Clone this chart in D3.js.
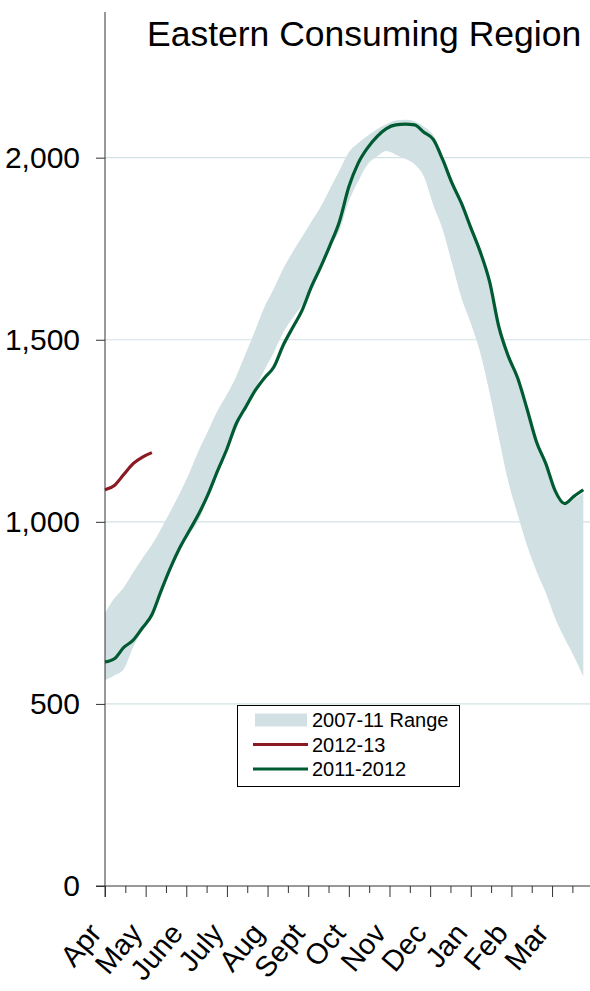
<!DOCTYPE html>
<html>
<head>
<meta charset="utf-8">
<script src="https://cdn.jsdelivr.net/npm/d3@7"></script>
<style>
  body { margin: 0; background: #fff; }
  svg { display: block; font-family: "Liberation Sans", Arial, sans-serif; }
</style>
</head>
<body>
<svg id="chart" width="590" height="991"></svg>
<script>
// month labels, week index 0 = first week of April
let months = ['Apr','May','June','July','Aug','Sept','Oct','Nov','Dec','Jan','Feb','Mar']
let yTicks = [0, 500, 1000, 1500, 2000]

// 2007-11 range, lower and upper edge (Bcf), weekly
let rangeLow = [565,578,595,656,702,742,805,870,925,966,1005,1072,1150,1200,1255,1313,1365,1417,1465,1520,
  1560,1595,1645,1700,1755,1800,1880,1935,1981,2003,2018,2008,1997,1982,1948,1870,1803,1710,1615,1545,
  1465,1355,1230,1110,1020,935,865,805,735,680,630,575]
let rangeHigh = [750,790,820,861,900,937,982,1030,1080,1135,1196,1250,1305,1350,1400,1462,1525,1590,1640,1695,
  1740,1782,1824,1865,1915,1965,2015,2040,2060,2078,2092,2102,2104,2100,2085,2062,2005,1940,1885,1818,
  1750,1668,1545,1462,1400,1315,1225,1162,1080,1045,1062,1080]
// 2011-2012
let y2011 = [615,624,655,675,709,745,812,875,930,976,1022,1076,1140,1200,1270,1315,1360,1395,1425,1485,
  1533,1580,1645,1700,1760,1825,1920,1985,2027,2058,2080,2090,2092,2090,2070,2050,1995,1930,1875,1808,
  1742,1660,1535,1455,1395,1310,1220,1160,1085,1050,1070,1088]
// 2012-13
let y2012 = [1088,1100,1130,1160,1178,1190]

let svg = d3.select('#chart')

let x = d3.scaleLinear().domain([0, 52]).range([105, 592.7])
let y = d3.scaleLinear().domain([0, 2400]).range([886, 12])

// gridlines
svg.append('g')
  .selectAll('line')
  .data(yTicks.slice(1))
  .enter().append('line')
  .attr('x1', 105).attr('x2', 590)
  .attr('y1', d => y(d)).attr('y2', d => y(d))
  .attr('stroke', '#d3e2e5')
  .attr('stroke-width', 1.2)

// range band
let area = d3.area()
  .x((d, i) => x(i))
  .y0(d => y(d[0]))
  .y1(d => y(d[1]))
  .curve(d3.curveMonotoneX)
svg.append('path')
  .datum(rangeLow.map((d, i) => [d, rangeHigh[i]]))
  .attr('d', area)
  .attr('fill', '#d0e0e3')

let line = d3.line()
  .x((d, i) => x(i))
  .y(d => y(d))
  .curve(d3.curveMonotoneX)

svg.append('path')
  .datum(y2011)
  .attr('d', line)
  .attr('fill', 'none')
  .attr('stroke', '#005a32')
  .attr('stroke-width', 3.2)

svg.append('path')
  .datum(y2012)
  .attr('d', line)
  .attr('fill', 'none')
  .attr('stroke', '#8b1a22')
  .attr('stroke-width', 3.2)

// y axis
let yAxis = svg.append('g')
  .attr('transform', 'translate(105,0)')
  .call(d3.axisLeft(y).tickValues(yTicks).tickFormat(d3.format(',')).tickSize(9).tickPadding(16))
yAxis.select('.domain').attr('d', 'M0,12V897').attr('stroke', '#333')
yAxis.selectAll('.tick line').attr('stroke', '#333')
yAxis.selectAll('.tick text')
  .attr('font-size', 30)
  .attr('font-family', '"Liberation Sans", Arial, sans-serif')
  .attr('fill', '#000')

// x axis: month ticks (long) and mid-month ticks (short)
let monthPos = months.map((m, i) => i * 52 / 12)
let midPos = months.map((m, i) => (i + 0.5) * 52 / 12)
let xAxis = svg.append('g')
  .attr('transform', 'translate(0,886)')
  .call(d3.axisBottom(x).tickValues(monthPos).tickSize(11).tickFormat(''))
xAxis.select('.domain').attr('d', 'M96,0H592').attr('stroke', '#333')
xAxis.selectAll('.tick line').attr('stroke', '#333')

let xMinor = svg.append('g')
  .attr('transform', 'translate(0,886)')
  .call(d3.axisBottom(x).tickValues(midPos).tickSize(7).tickFormat(''))
xMinor.select('.domain').remove()
xMinor.selectAll('.tick line').attr('stroke', '#333')

svg.append('g')
  .selectAll('text')
  .data(months)
  .enter().append('text')
  .attr('transform', (d, i) => `translate(${x(monthPos[i]) - 2},934) rotate(-50)`)
  .attr('text-anchor', 'end')
  .attr('font-size', 29)
  .attr('fill', '#000')
  .text(d => d)

// title
svg.append('text')
  .attr('x', 147)
  .attr('y', 46)
  .attr('font-size', 35.5)
  .attr('fill', '#000')
  .text('Eastern Consuming Region')

// legend
let legend = svg.append('g')
legend.append('rect')
  .attr('x', 237.5).attr('y', 705.5)
  .attr('width', 222).attr('height', 81)
  .attr('fill', '#fff')
  .attr('stroke', '#000')
  .attr('stroke-width', 1)

let legendItems = [
  {label: '2007-11 Range', type: 'band', color: '#d0e0e3'},
  {label: '2012-13', type: 'line', color: '#8b1a22'},
  {label: '2011-2012', type: 'line', color: '#005a32'}
]
legendItems.forEach((d, i) => {
  let cy = 720 + i * 24.5
  if (d.type == 'band') {
    legend.append('rect')
      .attr('x', 255).attr('y', cy - 6.5)
      .attr('width', 52).attr('height', 13)
      .attr('fill', d.color)
  } else {
    legend.append('line')
      .attr('x1', 253).attr('x2', 308)
      .attr('y1', cy).attr('y2', cy)
      .attr('stroke', d.color)
      .attr('stroke-width', 3.2)
  }
  legend.append('text')
    .attr('x', 312)
    .attr('y', cy + 7)
    .attr('font-size', 20)
    .attr('fill', '#000')
    .text(d.label)
})
</script>
</body>
</html>
